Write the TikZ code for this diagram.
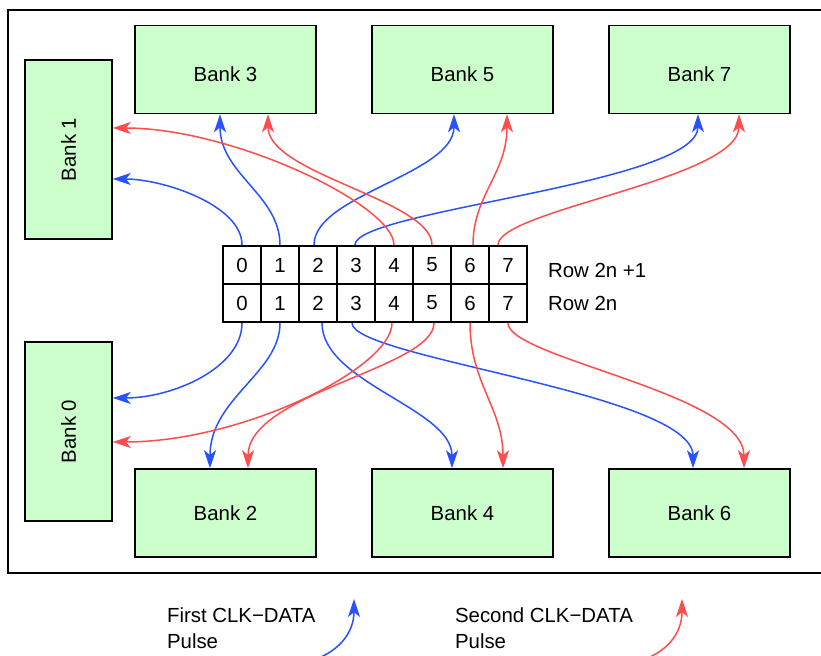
\documentclass[tikz,border=0pt]{standalone}
\usepackage{fontspec}
\setmainfont{Liberation Sans}
\usepackage{graphicx}
\usetikzlibrary{positioning,calc,arrows.meta}
\definecolor{bankgreen}{HTML}{CCFFCC}
\definecolor{pulseblue}{HTML}{2952FF}
\definecolor{pulsered}{HTML}{FF4D4D}
\tikzset{
  bank/.style        = {draw, line width=0.75pt, fill=bankgreen, inner sep=0pt},
  widebank/.style    = {bank, minimum width=90.5pt, minimum height=44pt},
  topbank/.style     = {widebank, text height=12.4pt},
  tallbank/.style    = {bank, minimum width=43.5pt, minimum height=89.5pt},
  cell/.style        = {draw, line width=1pt, minimum size=19pt, inner sep=0pt},
  firstpulse/.style  = {draw=pulseblue, line width=0.75pt, ->},
  secondpulse/.style = {draw=pulsered, line width=0.75pt, ->},
  >={Stealth[length=9pt,width=6pt,inset=2.4pt]}
}
\newcommand{\DrawCellRow}[2]{%
  % draws the eight cells of one row
  \foreach \col in {0,...,7}
    \node[cell] (#1\col) at ({242+38*\col},#2) {\col};
}

\begin{document}
\begin{tikzpicture}[x=0.5pt, y=-0.5pt, font=\fontsize{10.2}{13}\selectfont]
    \useasboundingbox (0,0) rectangle (821,656);

    % outer frame
    \draw[line width=0.7pt] (8,10) rectangle (840,573);

    % banks on the left
    \node[tallbank] (b1) at (68.5,149.5) {\rotatebox{90}{Bank 1}};
    \node[tallbank] (b0) at (68.5,431.5) {\rotatebox{90}{Bank 0}};

    % banks on top
    \node[topbank] (b3) at (225.5,69.5) {Bank 3};
    \node[topbank] (b5) at (462.5,69.5) {Bank 5};
    \node[topbank] (b7) at (699.5,69.5) {Bank 7};

    % banks at the bottom
    \node[widebank] (b2) at (225.5,513) {Bank 2};
    \node[widebank] (b4) at (462.5,513) {Bank 4};
    \node[widebank] (b6) at (699.5,513) {Bank 6};

    % the two rows of cells
    \DrawCellRow{r1}{265}
    \DrawCellRow{r0}{303}
    \node[right=6.5pt of r17, yshift=-2.5pt] (row1) {Row 2n +1};
    \node[right=6.5pt of r07] (row0) {Row 2n};

    % row 2n+1, first pulse
    \draw[firstpulse] (r10.north) .. controls +(0,-40) and +(50,0) .. ($(b1.east)+(0,29.5)$);
    \draw[firstpulse] (r11.north) .. controls +(0,-50) and +(0,60) .. ($(b3.south)+(-5.5,0)$);
    \draw[firstpulse] ($(r12.north)+(-4,0)$) .. controls +(0,-50) and +(0,60) .. ($(b5.south)+(-8.5,0)$);
    \draw[firstpulse] ($(r13.north)+(-1,0)$) .. controls +(0,-35) and +(0,70) .. ($(b7.south)+(-1.5,0)$);
    % row 2n+1, second pulse
    \draw[secondpulse] (r14.north) .. controls +(0,-40) and +(120,0) .. ($(b1.east)+(0,-21.5)$);
    \draw[secondpulse] (r15.north) .. controls +(0,-45) and +(0,60) .. ($(b3.south)+(42.5,0)$);
    \draw[secondpulse] ($(r16.north)+(3,0)$) .. controls +(0,-50) and +(0,60) .. ($(b5.south)+(44.5,0)$);
    \draw[secondpulse] ($(r17.north)+(-10,0)$) .. controls +(0,-35) and +(0,65) .. ($(b7.south)+(39.5,0)$);

    % row 2n, first pulse
    \draw[firstpulse] (r00.south) .. controls +(0,45) and +(60,0) .. ($(b0.east)+(0,-33.5)$);
    \draw[firstpulse] (r01.south) .. controls +(0,50) and +(0,-70) .. ($(b2.north)+(-15.5,0)$);
    \draw[firstpulse] ($(r02.south)+(4,0)$) .. controls +(0,60) and +(0,-60) .. ($(b4.north)+(-10.5,0)$);
    \draw[firstpulse] ($(r03.south)+(-4,0)$) .. controls +(0,35) and +(0,-75) .. ($(b6.north)+(-6.5,0)$);
    % row 2n, second pulse
    \draw[secondpulse] ($(r04.south)+(-2,0)$) .. controls +(0,45) and +(130,0) .. ($(b0.east)+(0,10.5)$);
    \draw[secondpulse] ($(r05.south)+(2,0)$) .. controls +(0,45) and +(0,-75) .. ($(b2.north)+(22.5,0)$);
    \draw[secondpulse] (r06.south) .. controls +(0,60) and +(0,-60) .. ($(b4.north)+(40.5,0)$);
    \draw[secondpulse] (r07.south) .. controls +(0,35) and +(0,-75) .. ($(b6.north)+(44.5,0)$);

    % legend
    \node[anchor=west, align=left] (lg1) at (160,628.5) {First CLK−DATA\\Pulse};
    \node[anchor=west, align=left] (lg2) at (448,628.5) {Second CLK−DATA\\Pulse};
    \coordinate (lg1s) at (307,662);
    \coordinate (lg1e) at (354,599);
    \coordinate (lg2s) at (636,662);
    \coordinate (lg2e) at (682,599);
    \draw[firstpulse] (lg1s) .. controls +(30,-8) and +(0,35) .. (lg1e);
    \draw[secondpulse] (lg2s) .. controls +(30,-8) and +(0,35) .. (lg2e);
\end{tikzpicture}
\end{document}
